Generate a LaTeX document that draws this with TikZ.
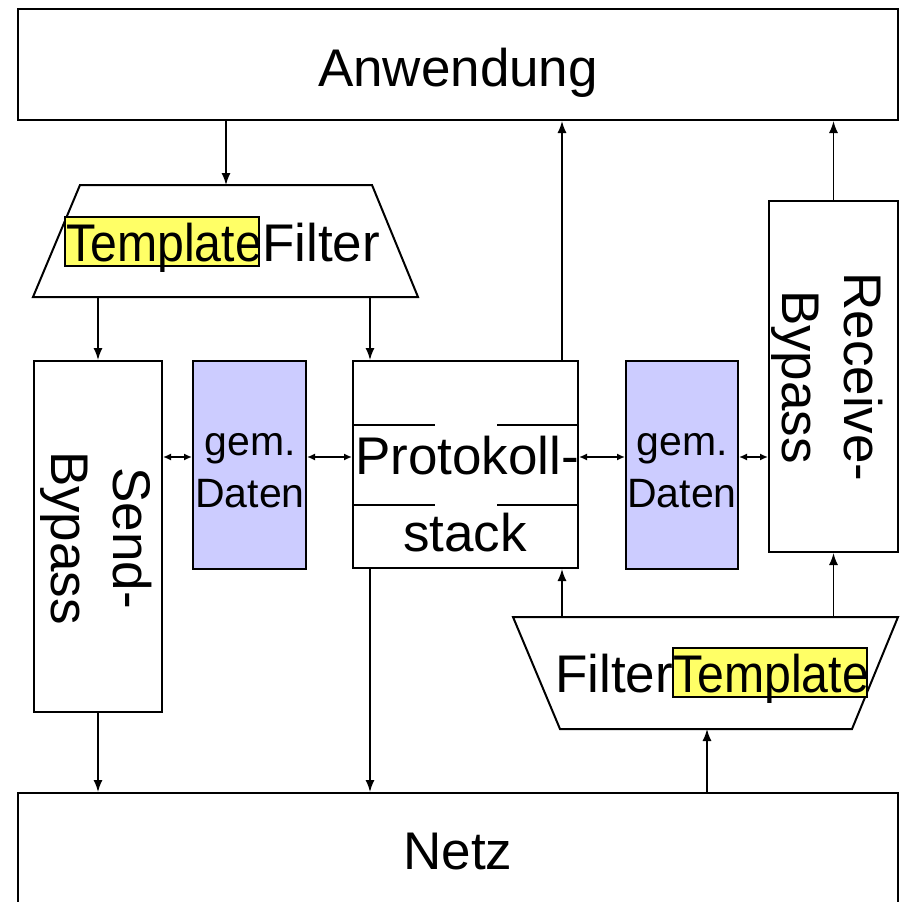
\documentclass[tikz,border=0pt]{standalone}
\usepackage{fontspec}
\setmainfont{Liberation Sans}
\usepackage{graphicx}
\usetikzlibrary{arrows.meta}
\definecolor{hl}{HTML}{FFFF66}
\definecolor{lav}{HTML}{CCCCFF}
\begin{document}
\begin{tikzpicture}[x=1pt,y=-1pt,
 box/.style={draw,line width=2pt,inner sep=0pt,fill=white},
 gbox/.style={draw,line width=2pt,inner sep=0pt,fill=lav},
 hlbox/.style={draw,line width=1.2pt,inner sep=0pt,fill=hl},
 big/.style={font=\fontsize{53}{62}\selectfont, inner sep=0pt},
 mid/.style={font=\fontsize{41}{52}\selectfont, inner sep=0pt},
 conn/.style={line width=1.5pt,-{Latex[length=12pt,width=9pt]}},
 dconn/.style={line width=1.5pt,{Latex[length=8pt,width=7pt]}-{Latex[length=8pt,width=7pt]}},
 sep/.style={line width=2pt},
]
\useasboundingbox (0,0) rectangle (901,902);
\fill[white] (0,0) rectangle (901,902);

% main boxes
\node[box, minimum width=880pt, minimum height=111pt] (anw) at (458,64.5) {};
\node[box, minimum width=880pt, minimum height=127pt] (netz) at (458,856.5) {};
\node[box, minimum width=128pt, minimum height=351pt] (send) at (98,536.5) {};
\node[gbox, minimum width=113pt, minimum height=208pt] (gd1) at (249.5,465) {};
\node[box, minimum width=225pt, minimum height=207pt] (ps) at (465.5,464.5) {};
\node[gbox, minimum width=112pt, minimum height=208pt] (gd2) at (682,465) {};
\node[box, minimum width=129pt, minimum height=351pt] (recv) at (833.5,376.5) {};

% trapezoids
\coordinate (ta) at (80,185);
\coordinate (tb) at (372,185);
\coordinate (tc) at (418,297);
\coordinate (td) at (33,297);
\draw[box] (ta) -- (tb) -- (tc) -- (td) -- cycle;
\coordinate (ua) at (513,617);
\coordinate (ub) at (898,617);
\coordinate (uc) at (852,729);
\coordinate (ud) at (560,729);
\draw[box] (ua) -- (ub) -- (uc) -- (ud) -- cycle;

% protocol stack separators
\draw[sep] (ps.west |- 0,425) -- (435,425);
\draw[sep] (497,425) -- (ps.east |- 0,425);
\draw[sep] (ps.west |- 0,505) -- (435,505);
\draw[sep] (497,505) -- (ps.east |- 0,505);

% highlights
\node[hlbox, minimum width=194pt, minimum height=49pt] (hl1) at (162,241.5) {};
\node[hlbox, minimum width=194pt, minimum height=49pt] (hl2) at (770,672.5) {};

% texts
\node[big, anchor=base] (anwt) at (458,86) {Anwendung};
\node[big, anchor=base] (netzt) at (458,869) {Netz};
\node[big, anchor=base west] (t1) at (66,261) {\scalebox{0.91}[1]{Template}};
\node[big, anchor=base west] (f1) at (262,261) {Filter};
\node[big, anchor=base west] (f2) at (555,692) {Filter};
\node[big, anchor=base west] (t2) at (673,692) {\scalebox{0.91}[1]{Template}};
\node[mid, anchor=base] (g1a) at (250,455) {gem.};
\node[mid, anchor=base] (g1b) at (250,507) {Daten};
\node[mid, anchor=base] (g2a) at (682,455) {gem.};
\node[mid, anchor=base] (g2b) at (682,507) {Daten};
\node[big, anchor=base] (pa) at (467,474) {Protokoll-};
\node[big, anchor=base] (pb) at (465,551) {stack};
\node[big, rotate=-90, align=center] (sendt) at (96,538) {Send-\\Bypass};
\node[big, rotate=-90, align=center] (recvt) at (827,377) {Receive-\\Bypass};

% connector coordinates
\coordinate (xa) at (226,185);
\coordinate (xb) at (98,297);
\coordinate (xc) at (370,297);
\coordinate (xd) at (562,0);
\coordinate (xe) at (833.5,617);
\coordinate (xf) at (707,729);
\coordinate (ya) at (0,457);

% connectors
\draw[conn] (anw.south -| xa) -- (xa);
\draw[conn] (xb) -- (send.north);
\draw[conn] (xc) -- (ps.north -| xc);
\draw[conn] (ps.north -| xd) -- (anw.south -| xd);
\draw[conn] (recv.north) -- (anw.south -| recv.north);
\draw[conn] (ps.south -| xc) -- (netz.north -| xc);
\draw[conn] (send.south) -- (netz.north -| send.south);
\draw[conn] (ua -| xd) -- (ps.south -| xd);
\draw[conn] (xe) -- (recv.south);
\draw[conn] (netz.north -| xf) -- (xf);
\draw[dconn] (send.east |- ya) -- (gd1.west |- ya);
\draw[dconn] (gd1.east |- ya) -- (ps.west |- ya);
\draw[dconn] (ps.east |- ya) -- (gd2.west |- ya);
\draw[dconn] (gd2.east |- ya) -- (recv.west |- ya);
\end{tikzpicture}
\end{document}
